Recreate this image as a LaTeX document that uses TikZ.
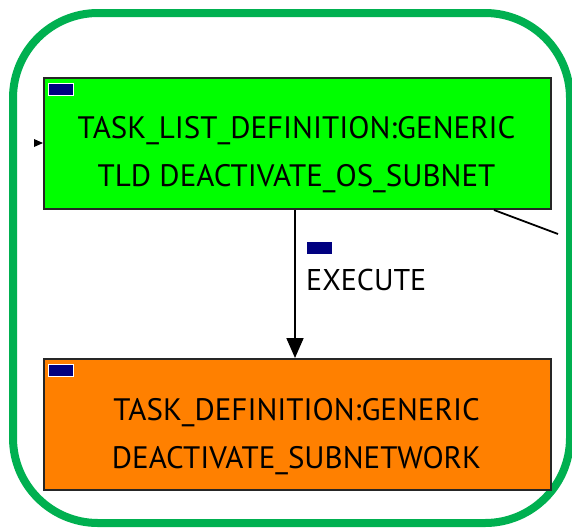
\documentclass[tikz,border=0pt]{standalone}
\usepackage{fontspec}
\setmainfont{PT Sans}
\usetikzlibrary{arrows.meta}
\definecolor{frame}{HTML}{00B050}
\definecolor{lime}{HTML}{00FF00}
\definecolor{orng}{HTML}{FF8000}
\definecolor{navy}{HTML}{000080}
\tikzset{
  box/.style={draw=black!85, line width=1.8pt, minimum width=507pt, minimum height=131pt, inner sep=0pt},
  lbl/.style={font=\fontsize{31}{48}\selectfont, align=center, inner sep=0pt},
  flag/.style={fill=navy, draw=white, line width=0.8pt, minimum width=25pt, minimum height=12pt, inner sep=0pt},
  conn/.style={line width=1.8pt, black},
}
\begin{document}
\begin{tikzpicture}[x=1pt,y=-1pt]
\useasboundingbox (0,0) rectangle (572,528);
\draw[frame, line width=8pt, rounded corners=85pt] (13,13) rectangle (570,523);
\node[box, fill=lime, anchor=north west] (tld) at (43,77) {};
\node[lbl] (tldt) at (296.5,155) {TASK\_LIST\_DEFINITION:GENERIC\\TLD DEACTIVATE\_OS\_SUBNET};
\node[flag, anchor=north west] (f1) at (48,83) {};
\node[box, fill=orng, anchor=north west] (td) at (43,358) {};
\node[lbl] (tdt) at (296.5,437) {TASK\_DEFINITION:GENERIC\\DEACTIVATE\_SUBNETWORK};
\node[flag, anchor=north west] (f2) at (48,364) {};
\draw[conn, -{Triangle[length=20pt,width=17pt]}] (tld.south -| 295,0) -- (td.north -| 295,0);
\node[flag, draw=none, anchor=north west] (f3) at (307,242) {};
\node[font=\fontsize{30}{36}\selectfont, anchor=base west, inner sep=0pt] (ex) at (306,290) {EXECUTE};
\coordinate (off) at (558,234);
\draw[conn] (494,210) -- (off);
\fill[black] (tld.west |- 0,143) -- ++(-9,-4) -- ++(0,8) -- cycle;
\end{tikzpicture}
\end{document}
